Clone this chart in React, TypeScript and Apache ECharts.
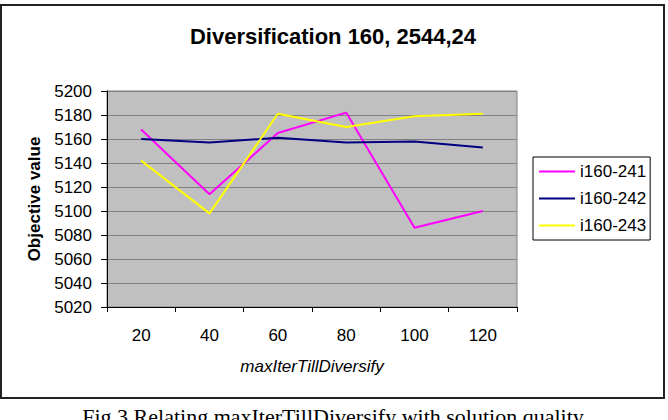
import React, { useEffect, useRef } from "react";
import * as echarts from "echarts";

const titleText = "Diversification 160, 2544,24";
const captionText = "Fig.3 Relating maxIterTillDiversify with solution quality";
const xAxisName = "maxIterTillDiversify";
const yAxisName = "Objective value";
const categories = ["20", "40", "60", "80", "100", "120"];
const seriesNames = ["i160-241", "i160-242", "i160-243"];
const seriesColors = ["#FF00FF", "#000080", "#FFFF00"];
const s241 = [5168, 5114, 5165, 5182, 5086, 5100];
const s242 = [5160, 5157, 5161, 5157, 5158, 5153];
const s243 = [5142, 5098, 5181, 5170, 5179, 5181];
const seriesValues = [s241, s242, s243];
const yMin = 5020;
const yMax = 5200;
const yStep = 20;

export default function App() {
  const ref = useRef<HTMLDivElement>(null);
  useEffect(() => {
    if (!ref.current) return;
    const chart = echarts.init(ref.current, undefined, { renderer: "svg" });
    const font = "Arial, 'Liberation Sans', sans-serif";
    chart.setOption({
      animation: false,
      backgroundColor: "#ffffff",
      textStyle: { fontFamily: font },
      title: {
        text: titleText,
        left: 328,
        top: 20,
        textAlign: "center",
        textStyle: { fontFamily: font, fontSize: 22, fontWeight: "bold", color: "#000" },
      },
      legend: {
        orient: "vertical",
        left: 533,
        top: 157,
        padding: [6, 4, 6, 6],
        icon: "rect",
        itemWidth: 36,
        itemHeight: 2,
        itemGap: 10,
        backgroundColor: "#ffffff",
        borderColor: "#000000",
        borderWidth: 1,
        borderRadius: 0,
        textStyle: { fontFamily: font, fontSize: 17, color: "#000", padding: [0, 0, 0, 0] },
        data: seriesNames,
      },
      grid: {
        left: 107,
        top: 91,
        width: 410,
        height: 216,
        show: true,
        backgroundColor: "#C0C0C0",
        borderColor: "#808080",
        borderWidth: 1,
        containLabel: false,
      },
      xAxis: {
        type: "category",
        data: categories,
        boundaryGap: true,
        name: xAxisName,
        nameLocation: "middle",
        nameGap: 51,
        nameTextStyle: { fontFamily: font, fontSize: 17, fontStyle: "italic", color: "#000" },
        axisLine: { show: true, lineStyle: { color: "#000", width: 1 } },
        axisTick: { show: true, length: 5, inside: false, lineStyle: { color: "#000" } },
        axisLabel: { fontFamily: font, fontSize: 17, color: "#000", margin: 20 },
        splitLine: { show: false },
      },
      yAxis: {
        type: "value",
        min: yMin,
        max: yMax,
        interval: yStep,
        name: yAxisName,
        nameLocation: "middle",
        nameGap: 64,
        nameRotate: 90,
        nameTextStyle: { fontFamily: font, fontSize: 17, fontWeight: "bold", color: "#000" },
        axisLine: { show: true, lineStyle: { color: "#000", width: 1 } },
        axisTick: { show: true, length: 6, inside: false, lineStyle: { color: "#000" } },
        axisLabel: {
          fontFamily: font,
          fontSize: 17,
          color: "#000",
          margin: 15,
          formatter: (v: number) => String(v),
        },
        splitLine: { show: true, lineStyle: { color: "#808080", width: 1 } },
      },
      graphic: [
        {
          type: "rect",
          shape: { x: 1, y: 5, width: 663, height: 393 },
          style: { fill: "none", stroke: "#222", lineWidth: 2 },
          silent: true,
          z: -1,
        },
        {
          type: "text",
          x: 333,
          y: 416,
          style: {
            text: captionText,
            fill: "#000",
            font: "22px 'Times New Roman', 'Liberation Serif', serif",
            textAlign: "center",
            textVerticalAlign: "middle",
          },
        },
      ],
      series: seriesNames.map((name, i) => ({
        name,
        type: "line",
        data: seriesValues[i],
        symbol: "none",
        showSymbol: false,
        lineStyle: { color: seriesColors[i], width: 2 },
        itemStyle: { color: seriesColors[i] },
      })),
    });
    return () => chart.dispose();
  }, []);
  return (
    <div
      ref={ref}
      style={{ position: "fixed", left: 0, top: 0, width: 668, height: 420 }}
    />
  );
}
